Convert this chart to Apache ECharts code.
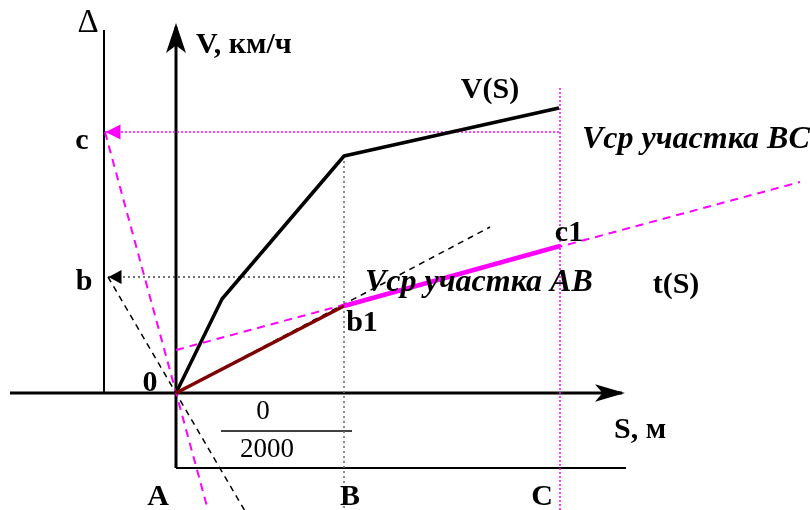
<!DOCTYPE html>
<html>
<head>
<meta charset="utf-8">
<script src="https://cdn.jsdelivr.net/npm/echarts@6/dist/echarts.min.js"></script>
<style>
  html, body { margin: 0; padding: 0; background: #fff; }
  #chart { width: 810px; height: 510px; }
</style>
</head>
<body>
<div id="chart"></div>
<script>
// схема: S вправо, V вверх, начало координат в точке A (0)
var vCurve = [[0, 0], [46, 94], [168, 237], [383, 285]];        // V(S)
var tAB = [[0, 0], [168, 87]];                                  // t(S) на участке AB
var tBC = [[168, 87], [384, 147]];                              // t(S) на участке BC
var tangentBC = [[0, 43], [624, 211]];                          // продолжение b1-c1
var tangentAB = [[0, 0], [314, 166]];                           // продолжение 0-b1
var rayB = [[-68, 116], [69, -118]];                            // из b через 0
var rayC = [[-71, 261], [32, -117]];                            // из c через 0
var levelB = [[-68, 116], [168, 116]];
var levelC = [[-71, 261], [384, 261]];
var lineB = [[168, 237], [168, -117]];
var lineC = [[384, 305], [384, -117]];
var axisS = [[-166, 0], [446, 0]];
var axisV = [[0, -75], [0, 366]];
var axisD = [[-72, 0], [-72, 363]];
var baseLine = [[0, -75], [450, -75]];
var fracLine = [[45, -38], [176, -38]];

// подписи: текст, x, y, стиль
var labels = [
  ['Δ', -88, 370, 'delta'],
  ['V, км/ч', 20, 348, 'boldL'],
  ['V(S)', 314, 303, 'bold'],
  ['Vср участка BC', 406, 253, 'italL'],
  ['c', -94, 252, 'bold'],
  ['b', -92, 111, 'bold'],
  ['0', -26, 10, 'bold'],
  ['b1', 186, 70, 'bold'],
  ['c1', 393, 160, 'bold'],
  ['Vср участка AB', 189, 110, 'italL'],
  ['t(S)', 500, 108, 'bold'],
  ['S, м', 464, -37, 'bold'],
  ['0', 87, -19, 'reg'],
  ['2000', 91, -57, 'reg'],
  ['A', -18, -104, 'bold'],
  ['B', 174, -104, 'bold'],
  ['C', 366, -104, 'bold']
];

var MAG = '#ff00ff';
var serif = '"Liberation Serif", "DejaVu Serif", serif';

function seg(data, color, width, type, z) {
  return {
    type: 'line', data: data, symbol: 'none', silent: true, z: z || 2,
    lineStyle: { color: color, width: width, type: type || 'solid' }
  };
}

function arrow(x, y, rot, size, color, sym) {
  return {
    type: 'scatter', data: [[x, y]], symbol: sym, symbolSize: size,
    symbolRotate: rot, itemStyle: { color: color, opacity: 1 }, silent: true, z: 5
  };
}

var txtStyles = {
  reg: { fontSize: 27, fontWeight: 'normal', fontStyle: 'normal', align: 'center' },
  delta: { fontSize: 33, fontWeight: 'normal', fontStyle: 'normal', align: 'center' },
  bold: { fontSize: 30, fontWeight: 'bold', fontStyle: 'normal', align: 'center' },
  boldL: { fontSize: 30, fontWeight: 'bold', fontStyle: 'normal', align: 'left' },
  italL: { fontSize: 32, fontWeight: 'bold', fontStyle: 'italic', align: 'left' }
};

var labelSeries = {
  type: 'scatter', symbolSize: 0, silent: true, z: 10,
  itemStyle: { color: '#000', opacity: 1 },
  data: labels.map(function (l) {
    var s = txtStyles[l[3]];
    return {
      value: [l[1], l[2]],
      label: {
        show: true, position: 'inside', formatter: l[0], color: '#000',
        opacity: 1, textBorderWidth: 0, textBorderColor: 'transparent',
        fontFamily: serif, fontSize: s.fontSize, fontWeight: s.fontWeight,
        fontStyle: s.fontStyle, align: s.align, verticalAlign: 'middle'
      }
    };
  })
};

var chart = echarts.init(document.getElementById('chart'));
chart.setOption({
  animation: false,
  backgroundColor: '#fff',
  grid: { left: 0, right: 0, top: 0, bottom: 0 },
  xAxis: { type: 'value', min: -176, max: 634, show: false },
  yAxis: { type: 'value', min: -117, max: 393, show: false },
  series: [
    seg(axisS, '#000', 3),
    seg(axisV, '#000', 3),
    seg(axisD, '#000', 2),
    seg(baseLine, '#000', 2),
    seg(fracLine, '#000', 1.5),
    seg(lineB, '#666', 1.5, [2, 3]),
    seg(levelB, '#444', 1.5, [2, 3]),
    seg(lineC, MAG, 1.5, [2, 2]),
    seg(levelC, MAG, 1.5, [2, 2]),
    seg(rayB, '#000', 1.5, [6, 5]),
    seg(rayC, MAG, 2, [8, 6]),
    seg(tangentAB, '#000', 1.5, [6, 5]),
    seg(tangentBC, MAG, 2, [8, 6]),
    seg(vCurve, '#000', 3.5, 'solid', 3),
    seg(tAB, '#800000', 3.5, 'solid', 4),
    seg(tBC, MAG, 4.5, 'solid', 4),
    arrow(0, 370, 0, [15, 30], '#000', 'arrow'),
    arrow(449, 0, -90, [13, 30], '#000', 'arrow'),
    arrow(-61, 116, 90, [14, 13], '#000', 'triangle'),
    arrow(-63, 261, 90, [15, 15], MAG, 'triangle'),
    labelSeries
  ]
});
</script>
</body>
</html>
